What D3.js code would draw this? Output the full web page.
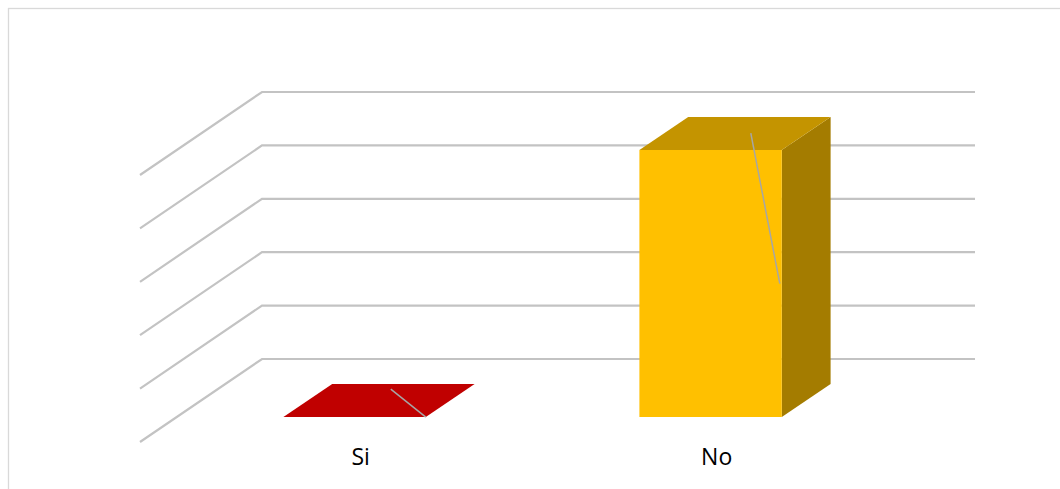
<!DOCTYPE html>
<html>
<head>
<meta charset="utf-8">
<script src="https://cdn.jsdelivr.net/npm/d3@7"></script>
<style>
  html, body { margin: 0; padding: 0; background: #fff; }
  svg { display: block; }
</style>
</head>
<body>
<svg id="chart" width="1060" height="489"></svg>
<script>
// ---- data ----
const categories = ["Si", "No"];
const values = [0, 100];
const gridTicks = [0, 20, 40, 60, 80, 100];
const frontColors = ["#C00000", "#FFC000"];
const topColors = ["#C00000", "#C49400"];
const sideColors = ["#8F0000", "#A47C00"];

// ---- layout ----
const svg = d3.select("#chart");
const W = 1060, H = 489;
const depthX = 122, depthY = 83;           // full depth offset of plot floor
const barD0 = 0.3, barD1 = 0.7;           // bar depth span (fraction of floor depth)

const x = d3.scaleBand().domain(categories).range([140, 852])
  .paddingInner(0.6).paddingOuter(0.3);
const y = d3.scaleLinear().domain([0, 100]).range([442, 175]);

// project (front-plane x, value, depth fraction) to screen
const P = (u, v, d) => [u + d * depthX, y(v) - d * depthY];

// outer border
svg.append("rect").attr("x", 8.5).attr("y", 8.5)
  .attr("width", W + 20).attr("height", H + 20)
  .attr("fill", "none").attr("stroke", "#d9d9d9").attr("stroke-width", 1.3);

// gridlines: side wall diagonals + back wall horizontals
const xMin = x.range()[0], xMax = x.range()[1];
const grid = svg.append("g").attr("fill", "none")
  .attr("stroke", "#c3c3c3").attr("stroke-width", 2.2);
gridTicks.forEach(t => {
  const a = P(xMin, t, 0), b = P(xMin, t, 1), c = P(xMax + 1, t, 1);
  grid.append("path").attr("d", d3.line()([a, b, c]));
});

// bars
const g = svg.append("g");
categories.forEach((cat, i) => {
  const u0 = x(cat), u1 = x(cat) + x.bandwidth(), v = values[i];
  const poly = pts => d3.line()(pts) + "Z";
  // right side
  if (v > 0) {
    g.append("path").attr("fill", sideColors[i])
      .attr("d", poly([P(u1, 0, barD0), P(u1, 0, barD1), P(u1, v, barD1), P(u1, v, barD0)]));
    g.append("path").attr("fill", frontColors[i])
      .attr("d", poly([P(u0, 0, barD0), P(u1, 0, barD0), P(u1, v, barD0), P(u0, v, barD0)]));
  }
  // top
  g.append("path").attr("fill", topColors[i])
    .attr("d", poly([P(u0, v, barD0), P(u1, v, barD0), P(u1, v, barD1), P(u0, v, barD1)]));
});

// leader lines (remnants of data labels)
const lead = svg.append("g").attr("stroke", "#a6a6a6").attr("stroke-width", 1.5);
{
  const e = P(x("Si") + x.bandwidth(), values[0], barD0);
  lead.append("line").attr("x1", e[0] - 35).attr("y1", e[1] - 28).attr("x2", e[0]).attr("y2", e[1]);
  const top = P(x("No") + x.bandwidth(), values[1], barD0);
  const mid = P(x("No") + x.bandwidth(), values[1] / 2, barD0);
  lead.append("line").attr("x1", top[0] - 31).attr("y1", top[1] - 17)
    .attr("x2", mid[0] - 2).attr("y2", mid[1]);
}

// category labels
svg.append("g").selectAll("text").data(categories).join("text")
  .attr("x", d => x(d) + x.bandwidth() / 2 + 0.35 * depthX)
  .attr("y", 465)
  .attr("text-anchor", "middle")
  .attr("font-family", "'Open Sans', 'Noto Sans', sans-serif")
  .attr("font-size", 23)
  .attr("fill", "#000")
  .text(d => d);
</script>
</body>
</html>
